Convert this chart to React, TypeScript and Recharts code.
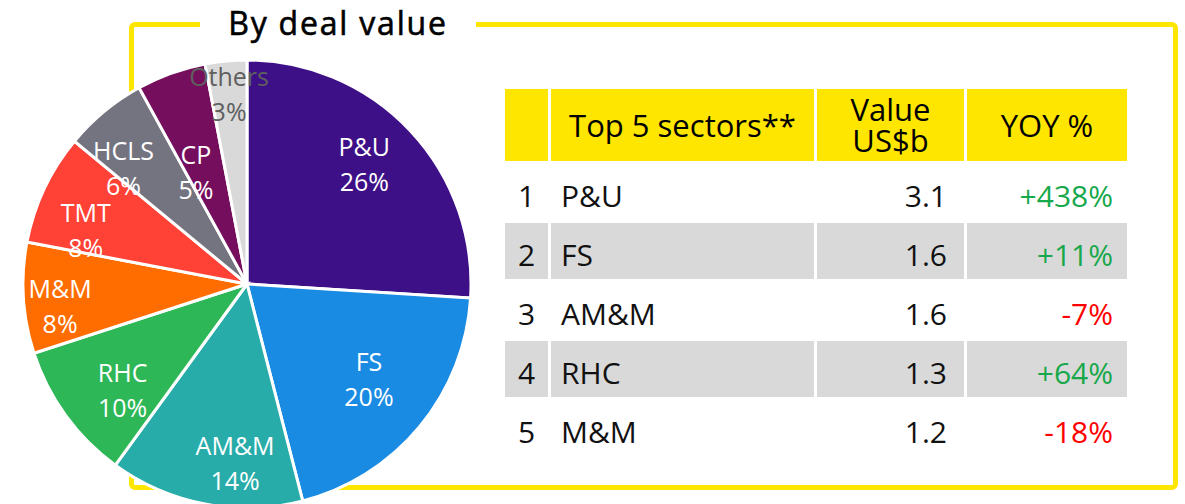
import { PieChart, Pie, Cell } from "recharts";

// pie: share of deal value by sector (%)
const sectors = ["P&U", "FS", "AM&M", "RHC", "M&M", "TMT", "HCLS", "CP", "Others"];
const shares = [26, 20, 14, 10, 8, 8, 6, 5, 3];
const sliceColors = ["#3D1087", "#1A8BE3", "#27ACAA", "#2DB757", "#FF6D00", "#FF4136", "#747480", "#750E5C", "#D9D9D9"];

// table: top 5 sectors
const headers = ["", "Top 5 sectors**", "Value\nUS$b", "YOY %"];
const topNames = ["P&U", "FS", "AM&M", "RHC", "M&M"];
const topValues = [3.1, 1.6, 1.6, 1.3, 1.2];
const topYoy = [438, 11, -7, 64, -18];

const pieData = sectors.map((name, i) => ({ name, value: shares[i] }));

// label placement: share of radius + angle nudge (deg), like Excel's best fit
const labelPos: Record<string, [number, number]> = {
  "P&U": [0.75, 2.5], FS: [0.69, 1.7], "AM&M": [0.8, 7], RHC: [0.73, 4.5], "M&M": [0.84, 3],
  TMT: [0.76, 6.6], HCLS: [0.755, 7.3], CP: [0.55, 4.7], Others: [0.85, 0],
};

const FONT = "'Open Sans', 'Noto Sans', sans-serif";
const YELLOW = "#FFE600";

const renderLabel = (p: any) => {
  const { cx, cy, midAngle, outerRadius, index } = p;
  const name = sectors[index];
  const [k, nudge] = labelPos[name] ?? [0.75, 0];
  const r = outerRadius * k;
  const a = (-(midAngle + nudge) * Math.PI) / 180;
  const x = cx + r * Math.cos(a);
  const y = cy + r * Math.sin(a);
  const fill = name === "Others" ? "#5f5f5f" : "#fff";
  return (
    <text x={x} y={y} textAnchor="middle" fill={fill} fontSize={25} fontFamily={FONT}>
      <tspan x={x} y={y - 8}>{name}</tspan>
      <tspan x={x} y={y + 27}>{shares[index] + "%"}</tspan>
    </text>
  );
};

const cellBase = { padding: 0, fontFamily: FONT, fontSize: 30, color: "#111" } as const;

export default function App() {
  return (
    <div style={{ position: "absolute", left: 0, top: 0, width: 1185, height: 504, overflow: "hidden", background: "#fff" }}>
      {/* yellow frame */}
      <div
        style={{
          position: "absolute", left: 129, top: 22, width: 1049, height: 468,
          boxSizing: "border-box", border: `5px solid ${YELLOW}`, borderRadius: 6,
        }}
      />
      <div
        style={{
          position: "absolute", left: 200, top: 1, width: 276, height: 44, background: "#fff",
          textAlign: "center", lineHeight: "normal", fontFamily: FONT, fontSize: 32, letterSpacing: 1.8,
          color: "#000", WebkitTextStroke: "0.6px #000",
        }}
      >
        By deal value
      </div>

      <div style={{ position: "absolute", left: 0, top: 0 }}>
        <PieChart width={1185} height={504} margin={{ top: 0, right: 0, bottom: 0, left: 0 }}>
          <Pie
            data={pieData}
            dataKey="value"
            nameKey="name"
            cx={247}
            cy={284}
            outerRadius={224}
            startAngle={90}
            endAngle={-270}
            stroke="#fff"
            strokeWidth={3}
            labelLine={false}
            label={renderLabel}
            isAnimationActive={false}
          >
            {pieData.map((d, i) => (
              <Cell key={d.name} fill={sliceColors[i]} />
            ))}
          </Pie>
        </PieChart>
      </div>

      <table
        style={{
          position: "absolute", left: 502, top: 86, borderCollapse: "separate", borderSpacing: 3,
          tableLayout: "fixed",
        }}
      >
        <colgroup>
          <col style={{ width: 43 }} />
          <col style={{ width: 263 }} />
          <col style={{ width: 147 }} />
          <col style={{ width: 160 }} />
        </colgroup>
        <thead>
          <tr style={{ height: 72 }}>
            {headers.map((h, i) => (
              <th
                key={i}
                style={{
                  ...cellBase, fontSize: 31, background: YELLOW, fontWeight: 400, color: "#000",
                  textAlign: "center", lineHeight: "31px", whiteSpace: "pre-line",
                }}
              >
                {h}
              </th>
            ))}
          </tr>
        </thead>
        <tbody>
          {topNames.map((n, i) => {
            const bg = i % 2 === 1 ? "#D9D9D9" : "#fff";
            const y = topYoy[i];
            return (
              <tr key={n} style={{ height: 56 }}>
                <td style={{ ...cellBase, background: bg, textAlign: "center", paddingTop: 6 }}>{i + 1}</td>
                <td style={{ ...cellBase, background: bg, textAlign: "left", paddingLeft: 10, paddingTop: 6 }}>{n}</td>
                <td style={{ ...cellBase, background: bg, textAlign: "right", paddingRight: 17, paddingTop: 6 }}>
                  {topValues[i].toFixed(1)}
                </td>
                <td
                  style={{
                    ...cellBase, background: bg, textAlign: "right", paddingRight: 14, paddingTop: 6,
                    color: y >= 0 ? "#17A84B" : "#FF0000",
                  }}
                >
                  {(y > 0 ? "+" : "") + y + "%"}
                </td>
              </tr>
            );
          })}
        </tbody>
      </table>
    </div>
  );
}
